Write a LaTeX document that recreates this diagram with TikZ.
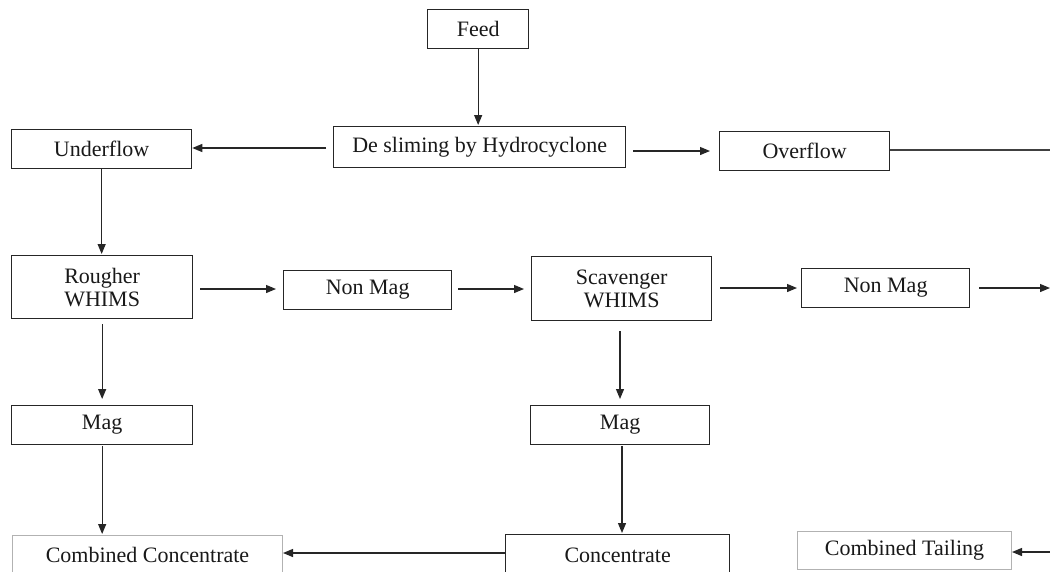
\documentclass[tikz,border=0pt]{standalone}
\usepackage{fontspec}
\setmainfont{Liberation Serif}
\usetikzlibrary{arrows.meta}
\begin{document}
\begin{tikzpicture}[x=1pt,y=-1pt,
  box/.style={draw=black!85,line width=1.3pt,anchor=north west,inner sep=0pt,
    font=\fontsize{22}{26}\selectfont,text=black!90},
  graybox/.style={box,draw=black!30,line width=1pt},
  arr/.style={line width=1.2pt,draw=black!85,-{Triangle[length=10pt,width=8pt]}},
  ln/.style={line width=1.2pt,draw=black!75}]
\useasboundingbox[fill=white] (0,0) rectangle (1050,571);
\clip (0,0) rectangle (1050,571);
% boxes
\node[box,minimum width=101pt,minimum height=39pt] (feed) at (427,9) {Feed};
\node[box,minimum width=292pt,minimum height=41pt] (desl) at (333,126) {De sliming by Hydrocyclone};
\node[box,minimum width=180pt,minimum height=39pt] (under) at (11,129) {Underflow};
\node[box,minimum width=170pt,minimum height=39pt] (over) at (719,131) {Overflow};
\node[box,minimum width=181pt,minimum height=63pt,align=center] (rough) at (11,255) {Rougher\\[-3pt]WHIMS};
\node[box,minimum width=168pt,minimum height=39pt] (nm1) at (283,270) {Non Mag};
\node[box,minimum width=180pt,minimum height=64pt,align=center] (scav) at (531,256) {Scavenger\\[-3pt]WHIMS};
\node[box,minimum width=168pt,minimum height=39pt] (nm2) at (801,268) {Non Mag};
\node[box,minimum width=181pt,minimum height=39pt] (mag1) at (11,405) {Mag};
\node[box,minimum width=179pt,minimum height=39pt] (mag2) at (530,405) {Mag};
\node[graybox,minimum width=270pt,minimum height=39pt] (cc) at (12,535) {Combined Concentrate};
\node[box,minimum width=224pt,minimum height=42pt] (conc) at (505,534) {Concentrate};
\node[graybox,minimum width=214pt,minimum height=38pt] (ct) at (797,531) {Combined Tailing};
% free ends
\coordinate (overend) at (1050,150);
\coordinate (nm2end) at (1050,288);
\coordinate (ctstart) at (1050,552);
% connectors
\draw[arr] (feed.south) -- ([yshift=1pt]desl.north -| feed.south);
\draw[arr] ([xshift=-7pt]desl.west |- 0,148) -- (under.east |- 0,148);
\draw[arr] ([xshift=7pt]desl.east |- 0,151) -- ([xshift=-9pt]over.west |- 0,151);
\draw[ln] (over.east |- overend) -- (overend);
\draw[arr] (under.south) -- ([yshift=1pt]rough.north -| under.south);
\draw[arr] ([xshift=7pt]rough.east |- 0,289) -- ([xshift=-7pt]nm1.west |- 0,289);
\draw[arr] ([xshift=6pt]nm1.east |- 0,289) -- ([xshift=-7pt]scav.west |- 0,289);
\draw[arr] ([xshift=8pt]scav.east |- 0,288) -- ([xshift=-4pt]nm2.west |- 0,288);
\draw[arr] ([xshift=9pt]nm2.east |- nm2end) -- (nm2end);
\draw[arr] ([yshift=-5pt]rough.south) -- ([yshift=6pt]mag1.north -| rough.south);
\draw[arr] ([yshift=-10pt]scav.south -| 620,0) -- ([yshift=6pt]mag2.north -| 620,0);
\draw[arr] ([yshift=-1pt]mag1.south) -- ([yshift=1pt]cc.north -| mag1.south);
\draw[arr] ([yshift=-1pt]mag2.south -| 622,0) -- ([yshift=1pt]conc.north -| 622,0);
\draw[arr] (conc.west |- 0,553) -- (cc.east |- 0,553);
\draw[arr] (ctstart) -- (ct.east |- ctstart);
\end{tikzpicture}
\end{document}
